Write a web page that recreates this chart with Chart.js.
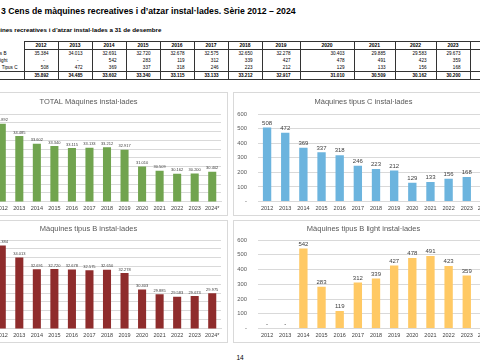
<!DOCTYPE html>
<html>
<head>
<meta charset="utf-8">
<script src="https://cdn.jsdelivr.net/npm/chart.js@4/dist/chart.umd.min.js"></script>
<style>
  body { margin: 0; width: 480px; height: 360px; overflow: hidden; position: relative; background: #fff;
         font-family: "Liberation Sans", Arial, sans-serif; color: #000; }
  #title { position: absolute; left: 1px; top: 5.5px; font-size: 8.7px; line-height: 10px; font-weight: bold; white-space: nowrap; }
  #sub { position: absolute; top: 25.5px; font-size: 6.2px; line-height: 7px; font-weight: bold; white-space: nowrap; }
  #tbl { position: absolute; left: -40px; top: 41px; border-collapse: collapse; table-layout: fixed; font-size: 4.6px; }
  #tbl td { height: 7px; line-height: 7px; padding: 0; white-space: nowrap; overflow: hidden; }
  #tbl td.y { border: 1px solid #333; text-align: center; font-weight: bold; font-size: 5px; }
  #tbl td.v { border-left: 1px solid #333; border-right: 1px solid #333; text-align: right; padding-right: 9px; }
  #tbl td.d { padding-right: 13px; }
  #tbl tr.tot td { font-weight: bold; border-top: 1px solid #333; border-bottom: 1px solid #333; }
  #tbl td.lab { text-align: right; }
  .panel { position: absolute; border: 1px solid #d9d9d9; background: #fff; box-sizing: border-box; }
  canvas { position: absolute; }
  #page { position: absolute; left: 0; width: 480px; top: 354px; text-align: center; font-size: 6.5px; line-height: 8px; }
</style>
</head>
<body>
<div id="title">3 Cens de màquines recreatives i d’atzar instal·lades. Sèrie 2012 – 2024</div>
<div id="sub"><span id="pre">Màqu</span>ines recreatives i d’atzar instal·lades a 31 de desembre</div>
<table id="tbl"></table>

<div class="panel" style="left:-44px;top:92px;width:272px;height:124px"></div>
<canvas id="cTotal" width="272" height="124" style="left:-44px;top:92px"></canvas>
<div class="panel" style="left:233px;top:92px;width:268px;height:124px"></div>
<canvas id="cC" width="268" height="124" style="left:233px;top:92px"></canvas>
<div class="panel" style="left:-44px;top:220px;width:272px;height:123px"></div>
<canvas id="cB" width="272" height="123" style="left:-44px;top:220px"></canvas>
<div class="panel" style="left:233px;top:220px;width:268px;height:123px"></div>
<canvas id="cLight" width="268" height="123" style="left:233px;top:220px"></canvas>

<div id="page">14</div>

<script>
'use strict';
// series 2012 - 2024
const years = ['2012', '2013', '2014', '2015', '2016', '2017', '2018', '2019', '2020', '2021', '2022', '2023', '2024*'];
const tipusB = [35384, 34013, 32691, 32720, 32678, 32575, 32650, 32278, 30403, 29885, 29583, 29673, 29975];
const bLight = [0, 0, 542, 283, 119, 312, 339, 427, 478, 491, 423, 359, 290];
const tipusC = [508, 472, 369, 337, 318, 246, 223, 212, 129, 133, 156, 168, 137];
const total = [35892, 34485, 33602, 33340, 33115, 33133, 33212, 32917, 31010, 30509, 30162, 30200, 30402];
const rowLabels = ['Tipus B', 'B light', 'Tipus C', 'Total'];

const FONT = '"Liberation Sans", Arial, sans-serif';

function fmt(v) {
    if (v === 0) return '-';
    return String(v).replace(/\B(?=(\d{3})+(?!\d))/g, '.');
}

// hide the start of the subtitle like in the cropped page
document.getElementById('sub').style.left = -document.getElementById('pre').offsetWidth + 'px';

// table
(function buildTable() {
    const colW = [64, 34, 34, 34, 34, 34, 34, 34, 38, 54, 41, 41, 34, 34];
    const labEnd = [17, 16, 6, 70];
    const tbl = document.getElementById('tbl');
    tbl.style.width = colW.reduce((a, b) => a + b, 0) + 'px';
    let html = '<colgroup>' + colW.map(w => '<col style="width:' + w + 'px">').join('') + '</colgroup>';
    html += '<tr><td></td>' + years.map(y => '<td class="y">' + y.replace('*', '') + '</td>').join('') + '</tr>';
    [tipusB, bLight, tipusC, total].forEach((row, r) => {
        html += '<tr' + (r === 3 ? ' class="tot"' : '') + '><td class="lab" style="padding-right:' + labEnd[r] + 'px">' + rowLabels[r] + '</td>';
        html += row.map(v => '<td class="v' + (v === 0 ? ' d' : '') + '">' + fmt(v) + '</td>').join('') + '</tr>';
    });
    tbl.innerHTML = html;
})();

// values on top of the bars
const barLabels = {
    id: 'barLabels',
    afterDatasetsDraw(chart, args, opts) {
        const ctx = chart.ctx;
        const meta = chart.getDatasetMeta(0);
        const data = chart.data.datasets[0].data;
        ctx.save();
        ctx.font = opts.size + 'px ' + FONT;
        ctx.fillStyle = '#404040';
        ctx.textAlign = 'center';
        ctx.textBaseline = 'bottom';
        meta.data.forEach((bar, i) => {
            ctx.fillText(fmt(data[i]), bar.x, bar.y - 1.5);
        });
        ctx.restore();
    }
};

function makeChart(id, values, color, title, min, max, o) {
    new Chart(document.getElementById(id), {
        type: 'bar',
        data: {
            labels: years,
            datasets: [{
                data: values,
                backgroundColor: color,
                barPercentage: 0.46,
                categoryPercentage: 1
            }]
        },
        options: {
            responsive: false,
            animation: false,
            layout: { padding: { left: 0, right: 7, top: 0, bottom: 0 } },
            plugins: {
                legend: { display: false },
                tooltip: { enabled: false },
                title: {
                    display: true,
                    text: title,
                    color: '#595959',
                    font: { family: FONT, size: 7.5, weight: 'normal', lineHeight: 1.2 },
                    padding: { top: o.tt, bottom: o.tb }
                },
                barLabels: { size: o.ls }
            },
            scales: {
                x: {
                    grid: { display: false, drawTicks: false },
                    border: { color: '#d9d9d9' },
                    ticks: { color: '#404040', font: { family: FONT, size: 5.5 }, padding: 4, maxRotation: 0, autoSkip: false },
                    afterFit: s => { s.height = o.xh; }
                },
                y: {
                    min: min,
                    max: max,
                    ticks: { stepSize: o.step, color: '#595959', font: { family: FONT, size: 5.8 }, padding: o.yp, callback: v => fmt(v) },
                    grid: { color: '#d9d9d9', drawTicks: false },
                    border: { display: false },
                    afterFit: s => { s.width = o.yw; }
                }
            }
        },
        plugins: [barLabels]
    });
}

makeChart('cTotal', total, '#71a44f', 'TOTAL Màquines instal·lades', 27000, 37000,
    { tt: 5.5, tb: 7.5, xh: 13.7, yw: 37, yp: 11, step: 1000, ls: 4 });
makeChart('cC', tipusC, '#6cb4de', 'Màquines tipus C instal·lades', 0, 600,
    { tt: 5.5, tb: 7.5, xh: 13.7, yw: 25, yp: 11, step: 100, ls: 6 });
makeChart('cB', tipusB, '#8f2c2c', 'Màquines tipus B instal·lades', 26000, 36000,
    { tt: 4.8, tb: 6.2, xh: 14, yw: 37, yp: 11, step: 1000, ls: 4 });
makeChart('cLight', bLight, '#ffc964', 'Màquines tipus B light instal·lades', 0, 600,
    { tt: 4.8, tb: 6.2, xh: 14, yw: 25, yp: 11, step: 100, ls: 6 });
</script>
</body>
</html>
